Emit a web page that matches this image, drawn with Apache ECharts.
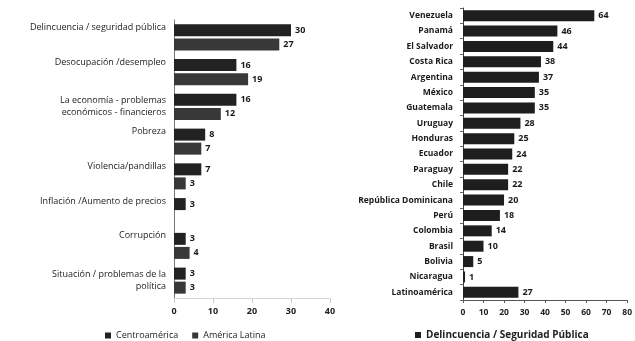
<!DOCTYPE html>
<html><head><meta charset="utf-8">
<script src="https://cdn.jsdelivr.net/npm/echarts@6/dist/echarts.min.js"></script>
<style>html,body{margin:0;padding:0;background:#fff}#c{width:635px;height:341px}</style>
</head><body><div id="c"></div>
<script>
const leftCategories = ['Delincuencia / seguridad pública','Desocupación /desempleo','La economía - problemas\neconómicos - financieros','Pobreza','Violencia/pandillas','Inflación /Aumento de precios','Corrupción','Situación / problemas de la\npolítica'];
const centroamerica = [30,16,16,8,7,3,3,3];
const americaLatina = [27,19,12,7,3,'-',4,3];
const leftTicks = [0,10,20,30,40];

const rightCategories = ['Venezuela','Panamá','El Salvador','Costa Rica','Argentina','México','Guatemala','Uruguay','Honduras','Ecuador','Paraguay','Chile','República Dominicana','Perú','Colombia','Brasil','Bolivia','Nicaragua','Latinoamérica'];
const delincuencia = [64,46,44,38,37,35,35,28,25,24,22,22,20,18,14,10,5,1,27];
const rightTicks = [0,10,20,30,40,50,60,70,80];

const font = 'Open Sans';
const chart = echarts.init(document.getElementById('c'));
const valLabel = {show:true, position:'right', distance:4, color:'#1a1a1a', fontFamily:font, fontWeight:'bold', fontSize:9};
chart.setOption({
  animation:false,
  backgroundColor:'#fff',
  legend:[
    {data:['Centroamérica','América Latina'], left:100, top:326, itemWidth:6, itemHeight:6, itemGap:14,
     textStyle:{fontFamily:font, fontSize:9, color:'#222'}, icon:'rect'},
    {data:['Delincuencia / Seguridad Pública'], left:410, top:325, itemWidth:6, itemHeight:6, itemGap:4,
     textStyle:{fontFamily:font, fontSize:10, fontWeight:'bold', color:'#222'}, icon:'rect'}
  ],
  grid:[
    {left:174, top:20, width:156, height:278},
    {left:463, top:8, width:170, height:292}
  ],
  xAxis:[
    {gridIndex:0, type:'value', min:leftTicks[0], max:leftTicks[leftTicks.length-1], interval:10,
     axisLine:{show:true, lineStyle:{color:'#ccc', type:'dotted'}}, axisTick:{show:true, lineStyle:{color:'#ccc'}},
     splitLine:{show:false}, axisLabel:{color:'#222', fontFamily:font, fontSize:9, fontWeight:'bold', margin:9}},
    {gridIndex:1, type:'value', min:rightTicks[0], max:rightTicks[rightTicks.length-1], interval:10,
     axisLine:{show:true, lineStyle:{color:'#555'}}, axisTick:{show:true, length:3, lineStyle:{color:'#555'}},
     splitLine:{show:false}, axisLabel:{color:'#222', fontFamily:font, fontSize:8.5, fontWeight:'bold', margin:8}}
  ],
  yAxis:[
    {gridIndex:0, type:'category', inverse:true,
     data:leftCategories.map(c=>({value:c, textStyle: c.indexOf('\n')>=0 ? {verticalAlign:'middle', lineHeight:12} : {verticalAlign:'bottom', lineHeight:20}})),
     axisLine:{show:true, lineStyle:{color:'#777'}}, axisTick:{show:false},
     axisLabel:{color:'#222', fontFamily:font, fontSize:9, margin:8, lineHeight:12, align:'right'}},
    {gridIndex:1, type:'category', inverse:true, data:rightCategories,
     axisLine:{show:true, lineStyle:{color:'#444'}}, axisTick:{show:true, length:3, lineStyle:{color:'#666'}},
     axisLabel:{color:'#1a1a1a', fontFamily:font, fontSize:8.5, fontWeight:'bold', margin:10}}
  ],
  series:[
    {name:'Centroamérica', type:'bar', xAxisIndex:0, yAxisIndex:0, data:centroamerica, barWidth:12, barGap:'17%',
     itemStyle:{color:'#222'}, label:valLabel},
    {name:'América Latina', type:'bar', xAxisIndex:0, yAxisIndex:0, data:americaLatina, barWidth:12, barGap:'17%',
     itemStyle:{color:'#383838'}, label:valLabel},
    {name:'Delincuencia / Seguridad Pública', type:'bar', xAxisIndex:1, yAxisIndex:1, data:delincuencia, barWidth:11,
     itemStyle:{color:'#1e1e1e'}, label:valLabel}
  ]
});
</script></body></html>
